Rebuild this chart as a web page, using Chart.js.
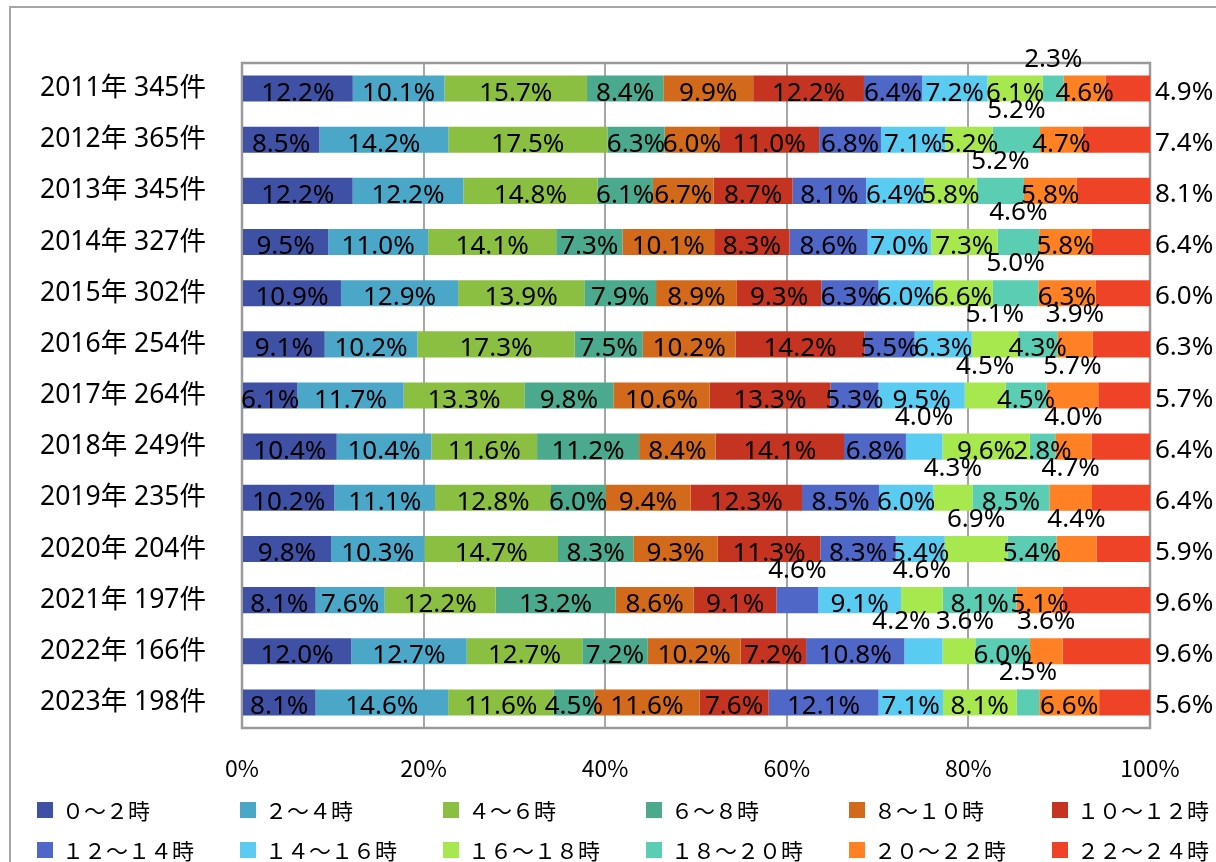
<!DOCTYPE html>
<html lang="ja">
<head>
  <meta charset="UTF-8" />
  <title>時間帯別 件数割合</title>
  <script src="https://cdn.jsdelivr.net/npm/chart.js"></script>
  <style>
    body { margin: 0; background: #fff; }
    #wrap { width: 1216px; height: 862px; }
  </style>
</head>
<body>
  <div id="wrap">
    <canvas id="time-chart" width="1216" height="862"></canvas>
  </div>

  <script>
    const years = [2011, 2012, 2013, 2014, 2015, 2016, 2017, 2018, 2019, 2020, 2021, 2022, 2023];
    const counts = [345, 365, 345, 327, 302, 254, 264, 249, 235, 204, 197, 166, 198];

    const slotNames = ['０～２時', '２～４時', '４～６時', '６～８時', '８～１０時', '１０～１２時',
                       '１２～１４時', '１４～１６時', '１６～１８時', '１８～２０時', '２０～２２時', '２２～２４時'];

    // percent per time slot, one value per year (2011 -> 2023)
    const h00_02 = [12.2, 8.5, 12.2, 9.5, 10.9, 9.1, 6.1, 10.4, 10.2, 9.8, 8.1, 12.0, 8.1];
    const h02_04 = [10.1, 14.2, 12.2, 11.0, 12.9, 10.2, 11.7, 10.4, 11.1, 10.3, 7.6, 12.7, 14.6];
    const h04_06 = [15.7, 17.5, 14.8, 14.1, 13.9, 17.3, 13.3, 11.6, 12.8, 14.7, 12.2, 12.7, 11.6];
    const h06_08 = [8.4, 6.3, 6.1, 7.3, 7.9, 7.5, 9.8, 11.2, 6.0, 8.3, 13.2, 7.2, 4.5];
    const h08_10 = [9.9, 6.0, 6.7, 10.1, 8.9, 10.2, 10.6, 8.4, 9.4, 9.3, 8.6, 10.2, 11.6];
    const h10_12 = [12.2, 11.0, 8.7, 8.3, 9.3, 14.2, 13.3, 14.1, 12.3, 11.3, 9.1, 7.2, 7.6];
    const h12_14 = [6.4, 6.8, 8.1, 8.6, 6.3, 5.5, 5.3, 6.8, 8.5, 8.3, 4.6, 10.8, 12.1];
    const h14_16 = [7.2, 7.1, 6.4, 7.0, 6.0, 6.3, 9.5, 4.0, 6.0, 5.4, 9.1, 4.2, 7.1];
    const h16_18 = [6.1, 5.2, 5.8, 7.3, 6.6, 5.1, 4.5, 9.6, 4.3, 6.9, 4.6, 3.6, 8.1];
    const h18_20 = [2.3, 5.2, 5.2, 4.6, 5.0, 4.3, 4.5, 2.8, 8.5, 5.4, 8.1, 6.0, 2.5];
    const h20_22 = [4.6, 4.7, 5.8, 5.8, 6.3, 3.9, 5.7, 4.0, 4.7, 4.4, 5.1, 3.6, 6.6];
    const h22_24 = [4.9, 7.4, 8.1, 6.4, 6.0, 6.3, 5.7, 6.4, 6.4, 5.9, 9.6, 9.6, 5.6];

    const series = [h00_02, h02_04, h04_06, h06_08, h08_10, h10_12,
                    h12_14, h14_16, h16_18, h18_20, h20_22, h22_24];

    const colors = ['#3f51a5', '#4ba7c8', '#8abf41', '#4baa8e', '#d2691b', '#c43420',
                    '#4f67c6', '#5acbf1', '#a8e84f', '#5bcdb2', '#ff8123', '#ef4327'];

    // which slot labels sit above the bar, per year (small segments)
    const labelAbove = [[9], [9], [9], [9], [9], [8, 10], [8, 10], [7, 10], [8, 10], [8, 10], [6, 8], [7, 8, 10], [9]];
    // hand nudges for crowded labels: "yearIndex-slot" -> px
    const labelNudge = { '11-7': -22, '11-8': 6 };

    const categories = years.map((y, i) => `${y}年 ${counts[i]}件`);

    // normalise each year to 100% like a 100% stacked bar
    const rowSums = years.map((_, yi) => series.reduce((s, arr) => s + arr[yi], 0));

    const FONT_LATIN = '"Noto Sans", "Noto Sans CJK JP", sans-serif';
    const FONT_JP = '"Noto Sans CJK JP", sans-serif';

    const framePlugin = {
      id: 'frame',
      beforeDraw(chart) {
        const c = chart.ctx;
        c.save();
        c.strokeStyle = '#a6a6a6';
        c.lineWidth = 2;
        c.beginPath();
        c.moveTo(10, 862);
        c.lineTo(10, 7);
        c.lineTo(1216, 7);
        c.stroke();
        c.restore();
      },
      beforeDatasetsDraw(chart) {
        const a = chart.chartArea;
        const c = chart.ctx;
        c.save();
        c.strokeStyle = '#9a9a9a';
        c.lineWidth = 2.5;
        c.strokeRect(a.left, a.top, a.right - a.left, a.bottom - a.top);
        c.restore();
      }
    };

    const labelPlugin = {
      id: 'segmentLabels',
      afterDatasetsDraw(chart) {
        const c = chart.ctx;
        const last = series.length - 1;
        c.save();
        c.font = '26px ' + FONT_LATIN;
        c.fillStyle = '#000';
        c.textBaseline = 'alphabetic';
        series.forEach((vals, si) => {
          const meta = chart.getDatasetMeta(si);
          meta.data.forEach((bar, yi) => {
            const p = bar.getProps(['x', 'y', 'base'], true);
            const txt = vals[yi].toFixed(1) + '%';
            const mid = (p.x + p.base) / 2 + (labelNudge[yi + '-' + si] || 0);
            if (si === last) {
              c.textAlign = 'left';
              c.fillText(txt, p.x + 5, p.y + 11);
            } else if (labelAbove[yi].includes(si)) {
              c.textAlign = 'center';
              c.fillText(txt, mid, p.y - 22);
            } else {
              c.textAlign = 'center';
              c.fillText(txt, mid, p.y + 12);
            }
          });
        });
        c.restore();
      },
      afterDraw(chart) {
        // legend in a fixed 6 x 2 grid
        const c = chart.ctx;
        c.save();
        c.font = '22px ' + FONT_JP;
        c.textAlign = 'left';
        c.textBaseline = 'middle';
        slotNames.forEach((name, i) => {
          const col = i % 6, row = Math.floor(i / 6);
          const x = 37 + col * 203;
          const y = 810 + row * 40;
          c.fillStyle = colors[i];
          c.fillRect(x, y - 8, 16, 16);
          c.fillStyle = '#000';
          c.fillText(name, x + 25, y + 1);
        });
        c.restore();
      }
    };

    const ctx = document.getElementById('time-chart').getContext('2d');

    new Chart(ctx, {
      type: 'bar',
      data: {
        labels: categories,
        datasets: series.map((vals, si) => ({
          label: slotNames[si],
          data: vals.map((v, yi) => v / rowSums[yi] * 100),
          backgroundColor: colors[si],
          borderWidth: 0,
          barPercentage: 0.51,
          categoryPercentage: 1.0
        }))
      },
      options: {
        indexAxis: 'y',
        responsive: false,
        animation: false,
        layout: { padding: { left: 0, top: 63, right: 66, bottom: 0 } },
        plugins: {
          legend: { display: false },
          tooltip: { enabled: false }
        },
        scales: {
          x: {
            stacked: true,
            min: 0,
            max: 100,
            afterFit: (scale) => { scale.height = 134; },
            ticks: {
              stepSize: 20,
              padding: 26,
              color: '#000',
              font: { family: FONT_JP, size: 23 },
              callback: (v) => v + '%'
            },
            grid: { color: '#a6a6a6', lineWidth: 2, drawTicks: false },
            border: { display: false }
          },
          y: {
            stacked: true,
            afterFit: (scale) => { scale.width = 242; },
            ticks: {
              padding: 36,
              color: '#000',
              font: { family: FONT_LATIN, size: 26.5 }
            },
            grid: { display: false, drawTicks: false },
            border: { display: false }
          }
        }
      },
      plugins: [framePlugin, labelPlugin]
    });
  </script>
</body>
</html>
